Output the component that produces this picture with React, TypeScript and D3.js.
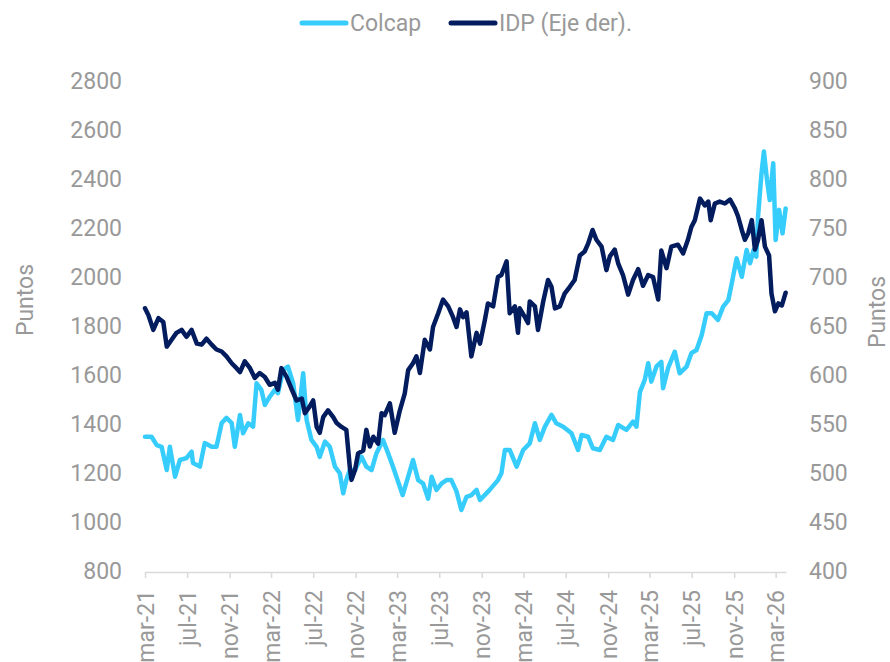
import React, { useEffect, useRef } from 'react'
import * as d3 from 'd3'

// Colcap (eje izq.)
const colcapDates = [
  '2021-03-01', '2021-03-20', '2021-04-04', '2021-04-18', '2021-05-03', '2021-05-12', '2021-05-27', '2021-06-10',
  '2021-06-29', '2021-07-14', '2021-07-18', '2021-08-07', '2021-08-21', '2021-09-10', '2021-09-24', '2021-10-09',
  '2021-10-23', '2021-11-07', '2021-11-16', '2021-12-01', '2021-12-10', '2021-12-25', '2022-01-08', '2022-01-18',
  '2022-02-01', '2022-02-11', '2022-02-25', '2022-03-12', '2022-03-21', '2022-04-05', '2022-04-19', '2022-05-04',
  '2022-05-18', '2022-06-02', '2022-06-12', '2022-06-26', '2022-07-11', '2022-07-20', '2022-08-04', '2022-08-18',
  '2022-09-02', '2022-09-16', '2022-09-26', '2022-10-05', '2022-10-15', '2022-10-30', '2022-11-18', '2022-12-02',
  '2022-12-17', '2022-12-31', '2023-01-19', '2023-02-03', '2023-02-17', '2023-02-27', '2023-03-17', '2023-04-01',
  '2023-04-16', '2023-05-01', '2023-05-15', '2023-05-30', '2023-06-09', '2023-06-23', '2023-07-08', '2023-07-22',
  '2023-08-05', '2023-08-20', '2023-09-03', '2023-09-18', '2023-10-02', '2023-10-17', '2023-10-27', '2023-11-24',
  '2023-12-18', '2023-12-28', '2024-01-07', '2024-01-21', '2024-02-10', '2024-02-29', '2024-03-19', '2024-04-03',
  '2024-04-17', '2024-05-02', '2024-05-21', '2024-06-04', '2024-06-24', '2024-07-18', '2024-08-06', '2024-08-16',
  '2024-09-04', '2024-09-18', '2024-10-08', '2024-10-27', '2024-11-15', '2024-11-30', '2024-12-24', '2025-01-12',
  '2025-01-22', '2025-02-01', '2025-02-15', '2025-02-25', '2025-03-06', '2025-03-21', '2025-04-04', '2025-04-09',
  '2025-04-24', '2025-05-13', '2025-05-27', '2025-06-16', '2025-06-30', '2025-07-15', '2025-07-30', '2025-08-13',
  '2025-08-28', '2025-09-15', '2025-09-30', '2025-10-15', '2025-10-25', '2025-11-08', '2025-11-23', '2025-12-07',
  '2025-12-17', '2025-12-27', '2026-01-04', '2026-01-09', '2026-01-19', '2026-01-26', '2026-02-04', '2026-02-12',
  '2026-02-22', '2026-03-01', '2026-03-11', '2026-03-21', '2026-03-30',
]
const colcapValues = [
  1348, 1348, 1314, 1307, 1212, 1307, 1185, 1253,
  1261, 1287, 1241, 1226, 1322, 1307, 1307, 1404,
  1425, 1404, 1307, 1437, 1362, 1403, 1389, 1566,
  1539, 1478, 1511, 1539, 1526, 1620, 1634, 1566,
  1416, 1607, 1416, 1335, 1307, 1266, 1328, 1307,
  1226, 1199, 1117, 1171, 1212, 1212, 1266, 1226,
  1212, 1280, 1335, 1280, 1226, 1185, 1110, 1180,
  1253, 1171, 1158, 1095, 1185, 1131, 1158, 1171,
  1171, 1125, 1049, 1103, 1110, 1131, 1090, 1131,
  1171, 1199, 1294, 1294, 1226, 1294, 1321, 1403,
  1335, 1389, 1437, 1403, 1389, 1362, 1294, 1355,
  1348, 1301, 1294, 1348, 1335, 1396, 1376, 1410,
  1389, 1530, 1580, 1648, 1573, 1635, 1654, 1546,
  1630, 1695, 1607, 1634, 1689, 1702, 1763, 1852,
  1852, 1825, 1879, 1906, 1974, 2076, 2001, 2110,
  2056, 2110, 2083, 2246, 2423, 2512, 2396, 2314,
  2464, 2151, 2274, 2178, 2280,
]

// IDP (eje der.)
const idpDates = [
  '2021-03-01', '2021-03-11', '2021-03-25', '2021-04-09', '2021-04-23', '2021-05-03', '2021-05-17', '2021-05-31',
  '2021-06-15', '2021-06-29', '2021-07-14', '2021-07-29', '2021-08-12', '2021-08-26', '2021-09-10', '2021-09-24',
  '2021-10-09', '2021-10-23', '2021-11-07', '2021-11-21', '2021-12-01', '2021-12-15', '2021-12-30', '2022-01-13',
  '2022-01-27', '2022-02-11', '2022-02-25', '2022-03-12', '2022-03-21', '2022-03-31', '2022-04-15', '2022-04-29',
  '2022-05-14', '2022-05-29', '2022-06-07', '2022-06-21', '2022-07-01', '2022-07-11', '2022-07-20', '2022-07-30',
  '2022-08-13', '2022-08-28', '2022-09-07', '2022-09-21', '2022-10-05', '2022-10-15', '2022-10-20', '2022-10-30',
  '2022-11-08', '2022-11-23', '2022-12-02', '2022-12-12', '2022-12-22', '2023-01-05', '2023-01-15', '2023-01-24',
  '2023-02-08', '2023-02-22', '2023-03-09', '2023-03-23', '2023-04-02', '2023-04-16', '2023-04-26', '2023-05-06',
  '2023-05-20', '2023-06-04', '2023-06-13', '2023-06-28', '2023-07-12', '2023-07-27', '2023-08-10', '2023-08-20',
  '2023-08-30', '2023-09-08', '2023-09-18', '2023-10-02', '2023-10-17', '2023-10-27', '2023-11-10', '2023-11-19',
  '2023-12-04', '2023-12-18', '2023-12-28', '2024-01-12', '2024-01-21', '2024-02-05', '2024-02-14', '2024-02-19',
  '2024-03-05', '2024-03-14', '2024-03-19', '2024-04-03', '2024-04-12', '2024-04-27', '2024-05-11', '2024-05-21',
  '2024-05-31', '2024-06-14', '2024-06-28', '2024-07-13', '2024-07-27', '2024-08-11', '2024-08-25', '2024-09-04',
  '2024-09-17', '2024-09-28', '2024-10-13', '2024-10-27', '2024-11-06', '2024-11-20', '2024-11-30', '2024-12-14',
  '2024-12-29', '2025-01-12', '2025-01-27', '2025-02-10', '2025-02-25', '2025-03-11', '2025-03-26', '2025-04-04',
  '2025-04-19', '2025-05-03', '2025-05-22', '2025-06-06', '2025-06-20', '2025-06-30', '2025-07-10', '2025-07-25',
  '2025-08-08', '2025-08-18', '2025-08-25', '2025-09-06', '2025-09-20', '2025-10-05', '2025-10-20', '2025-11-03',
  '2025-11-12', '2025-11-23', '2025-12-02', '2025-12-12', '2025-12-22', '2025-12-31', '2026-01-09', '2026-01-19',
  '2026-01-29', '2026-02-10', '2026-02-17', '2026-02-27', '2026-03-09', '2026-03-19', '2026-03-30',
]
const idpValues = [
  668, 661, 646, 658, 654, 629, 636, 643,
  646, 639, 646, 632, 631, 637, 631, 626,
  624, 619, 612, 607, 603, 614, 607, 597,
  602, 598, 590, 592, 585, 607, 598, 586,
  574, 576, 561, 568, 574, 547, 541, 557,
  564, 557, 551, 547, 544, 506, 493, 503,
  520, 523, 544, 527, 537, 530, 561, 559,
  571, 541, 564, 581, 605, 612, 619, 602,
  636, 626, 649, 663, 677, 670, 659, 649,
  667, 659, 664, 619, 643, 632, 656, 673,
  670, 700, 702, 716, 663, 670, 643, 668,
  659, 653, 675, 670, 646, 675, 697, 690,
  668, 670, 683, 690, 697, 722, 726, 734,
  748, 738, 731, 707, 721, 728, 714, 702,
  682, 697, 708, 691, 702, 700, 677, 727,
  709, 731, 733, 724, 738, 751, 758, 780,
  773, 777, 758, 775, 777, 775, 779, 770,
  762, 748, 738, 745, 758, 728, 738, 758,
  731, 722, 683, 665, 673, 671, 684,
]

const xTickDates = [
  '2021-03-01', '2021-07-01', '2021-11-01', '2022-03-01', '2022-07-01', '2022-11-01', '2023-03-01', '2023-07-01',
  '2023-11-01', '2024-03-01', '2024-07-01', '2024-11-01', '2025-03-01', '2025-07-01', '2025-11-01', '2026-03-01',
]
const leftTicks = [800, 1000, 1200, 1400, 1600, 1800, 2000, 2200, 2400, 2600, 2800]
const rightTicks = [400, 450, 500, 550, 600, 650, 700, 750, 800, 850, 900]

const COLCAP = '#36cdfc'
const IDP = '#021c5e'
const GREY = '#999999'
const FONT = 'Roboto, sans-serif'

const parse = d3.timeParse('%Y-%m-%d')
const esLocale = d3.timeFormatLocale({
  dateTime: '%x, %X',
  date: '%d/%m/%Y',
  time: '%H:%M:%S',
  periods: ['AM', 'PM'],
  days: ['domingo', 'lunes', 'martes', 'miércoles', 'jueves', 'viernes', 'sábado'],
  shortDays: ['dom', 'lun', 'mar', 'mié', 'jue', 'vie', 'sáb'],
  months: ['enero', 'febrero', 'marzo', 'abril', 'mayo', 'junio', 'julio', 'agosto', 'septiembre', 'octubre', 'noviembre', 'diciembre'],
  shortMonths: ['ene', 'feb', 'mar', 'abr', 'may', 'jun', 'jul', 'ago', 'sep', 'oct', 'nov', 'dic'],
})

const App = () => {
  const ref = useRef<SVGSVGElement>(null)

  useEffect(() => {
    const svg = d3.select(ref.current)
    svg.selectAll('*').remove()

    const x = d3.scaleTime()
      .domain([parse('2021-03-01')!, parse('2026-03-31')!])
      .range([145, 786])
    const yLeft = d3.scaleLinear().domain([800, 2800]).range([571, 81])
    const yRight = d3.scaleLinear().domain([400, 900]).range([571, 81])

    // bottom date axis
    const xAxis = svg.append('g')
      .attr('transform', 'translate(0,572)')
      .call(d3.axisBottom(x)
        .tickValues(xTickDates.map(d => parse(d)!))
        .tickFormat(esLocale.format('%b-%y') as any)
        .tickSize(6)
        .tickSizeOuter(0))
    xAxis.select('.domain').attr('stroke', '#d9d9d9').attr('stroke-width', 1.5)
    xAxis.selectAll('.tick line').attr('stroke', '#d9d9d9').attr('stroke-width', 1.5)
    xAxis.selectAll('.tick text')
      .attr('transform', 'rotate(-90)')
      .attr('x', -18)
      .attr('y', 0)
      .attr('dy', '0.35em')
      .style('text-anchor', 'end')
      .attr('fill', GREY)
      .style('font-family', FONT)
      .style('font-size', '23px')

    // left / right tick labels
    svg.append('g').selectAll('text')
      .data(leftTicks)
      .join('text')
      .attr('x', 122)
      .attr('y', d => yLeft(d))
      .attr('dy', '0.35em')
      .attr('text-anchor', 'end')
      .attr('fill', GREY)
      .style('font-family', FONT)
      .style('font-size', '23px')
      .text(d => d)

    svg.append('g').selectAll('text')
      .data(rightTicks)
      .join('text')
      .attr('x', 809)
      .attr('y', d => yRight(d))
      .attr('dy', '0.35em')
      .attr('text-anchor', 'start')
      .attr('fill', GREY)
      .style('font-family', FONT)
      .style('font-size', '23px')
      .text(d => d)

    // axis titles
    svg.append('text')
      .attr('transform', 'translate(25,300) rotate(-90)')
      .attr('dy', '0.35em')
      .attr('text-anchor', 'middle')
      .attr('fill', GREY)
      .style('font-family', FONT)
      .style('font-size', '23px')
      .text('Puntos')
    svg.append('text')
      .attr('transform', 'translate(877,312) rotate(-90)')
      .attr('dy', '0.35em')
      .attr('text-anchor', 'middle')
      .attr('fill', GREY)
      .style('font-family', FONT)
      .style('font-size', '23px')
      .text('Puntos')

    // series
    const colcap = colcapDates.map((d, i) => ({ date: parse(d)!, value: colcapValues[i] }))
    const idp = idpDates.map((d, i) => ({ date: parse(d)!, value: idpValues[i] }))

    const colcapLine = d3.line<{ date: Date, value: number }>()
      .x(d => x(d.date))
      .y(d => yLeft(d.value))
    const idpLine = d3.line<{ date: Date, value: number }>()
      .x(d => x(d.date))
      .y(d => yRight(d.value))

    svg.append('path')
      .datum(colcap)
      .attr('fill', 'none')
      .attr('stroke', COLCAP)
      .attr('stroke-width', 4.5)
      .attr('stroke-linejoin', 'round')
      .attr('stroke-linecap', 'round')
      .attr('d', colcapLine)

    svg.append('path')
      .datum(idp)
      .attr('fill', 'none')
      .attr('stroke', IDP)
      .attr('stroke-width', 4.5)
      .attr('stroke-linejoin', 'round')
      .attr('stroke-linecap', 'round')
      .attr('d', idpLine)

    // legend
    const legend = [
      { name: 'Colcap', color: COLCAP, x: 302 },
      { name: 'IDP (Eje der).', color: IDP, x: 451 },
    ]
    const lg = svg.append('g').selectAll('g').data(legend).join('g')
    lg.append('line')
      .attr('x1', d => d.x)
      .attr('x2', d => d.x + 44)
      .attr('y1', 23)
      .attr('y2', 23)
      .attr('stroke', d => d.color)
      .attr('stroke-width', 5)
      .attr('stroke-linecap', 'round')
    lg.append('text')
      .attr('x', d => d.x + 48)
      .attr('y', 23)
      .attr('dy', '0.35em')
      .attr('fill', GREY)
      .style('font-family', FONT)
      .style('font-size', '23px')
      .text(d => d.name)
  }, [])

  return (
    <svg
      ref={ref}
      width={890}
      height={662}
      style={{ position: 'absolute', left: 0, top: 0, background: '#fff' }}
    />
  )
}

export default App
